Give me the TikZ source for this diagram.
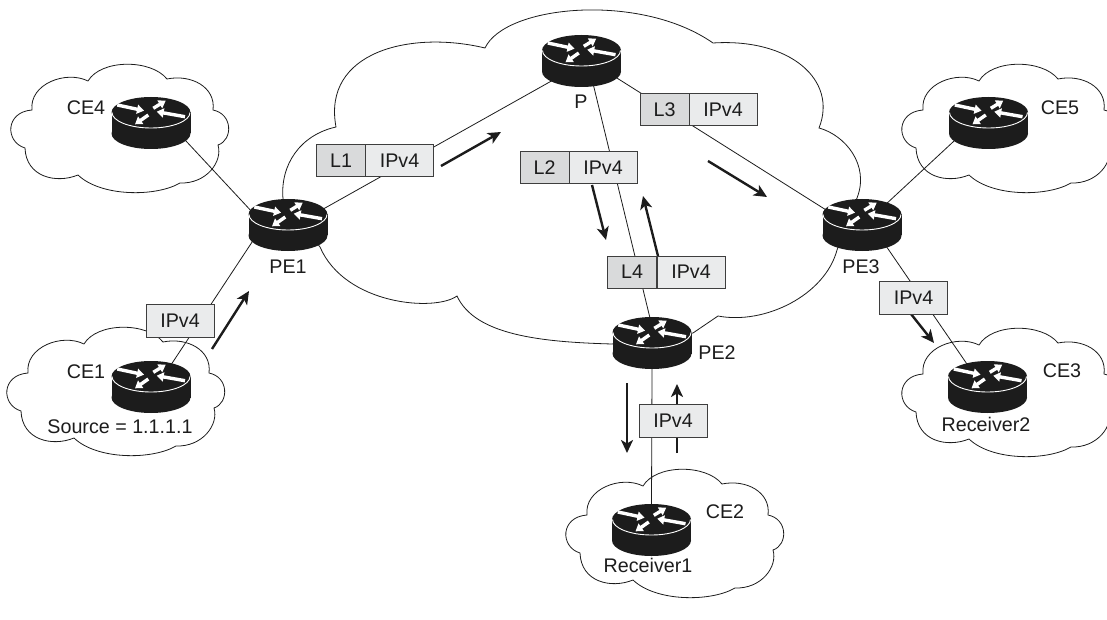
\documentclass[tikz,border=0pt]{standalone}
\usepackage{fontspec}
\setmainfont{Liberation Sans}
\usetikzlibrary{arrows.meta,shapes.geometric}

\definecolor{routerblack}{HTML}{1C1C1C}
\definecolor{labelgray}{HTML}{D9DADB}
\definecolor{ipgray}{HTML}{EAEBEC}

\tikzset{
  routernode/.style={ellipse,minimum width=79pt,minimum height=52pt,inner sep=0pt,outer sep=0pt},
  txt/.style={text=routerblack,inner sep=0pt},
  link/.style={draw=routerblack,line width=0.8pt},
  cloudline/.style={draw=routerblack,line width=0.8pt,line join=miter},
  flow/.style={draw=routerblack,line width=2.4pt,-{Stealth[length=13pt,width=12pt,inset=3.5pt]}},
  labelbox/.style={rectangle,draw=routerblack!85,line width=1pt,fill=labelgray,text=routerblack,minimum width=49pt,minimum height=32pt,inner sep=0pt},
  ipbox/.style={rectangle,draw=routerblack!85,line width=1pt,fill=ipgray,text=routerblack,minimum width=68pt,minimum height=32pt,inner sep=0pt},
  whitearrow/.style={draw=white,line width=3.4pt,-{Triangle[length=7pt,width=9pt]}},
  router/.pic={
    \fill[routerblack] (0,-10.5) ellipse [x radius=39.5,y radius=15.5];
    \fill[routerblack] (0,10.5) ellipse [x radius=39.5,y radius=15.5];
    \fill[routerblack] (-39.5,-10.5) rectangle (39.5,10.5);
    \draw[white,line width=0.9pt] (-39,-10.5) .. controls (-39,-2) and (-21.5,5) .. (0,5) .. controls (21.5,5) and (39,-2) .. (39,-10.5);
    \draw[whitearrow] (-33.7,-18) -- (-7,-12.3);
    \draw[whitearrow] (2.3,-14.7) -- (14.7,-22.3);
    \draw[whitearrow] (34,-6.3) -- (5.7,-11.3);
    \draw[whitearrow] (-2.7,-8) -- (-16,1.3);
  },
  smallcloud/.pic={
    \draw[cloudline] (-119,-2) .. controls (-122,-28) and (-85,-42) .. (-63,-31)
      .. controls (-50,-53) and (0,-53) .. (16,-33)
      .. controls (40,-38) and (65,-25) .. (62,-2)
      .. controls (82,2) and (82,28) .. (67,33)
      .. controls (72,50) and (55,72) .. (29,71)
      .. controls (5,85) and (-50,85) .. (-73,63)
      .. controls (-95,72) and (-125,65) .. (-126,36)
      .. controls (-146,30) and (-146,0) .. cycle;
  }
}

\begin{document}
\begin{tikzpicture}[x=1pt,y=-1pt,font=\fontsize{19.7}{22}\selectfont]
    \useasboundingbox (0,0) rectangle (1107,620);

    % clouds
    \pic at (151,112) {smallcloud};
    \pic at (147,375) {smallcloud};
    \pic at (1042,112) {smallcloud};
    \pic at (1042,376) {smallcloud};
    \pic at (706,517) {smallcloud};
    \draw[cloudline] (283,199) .. controls (280,165) and (300,135) .. (336,127)
      .. controls (322,52) and (410,30) .. (485,48)
      .. controls (505,5) and (640,-8) .. (713,43)
      .. controls (790,38) and (838,80) .. (819,128)
      .. controls (845,135) and (870,165) .. (857,198)
      -- (837,250) .. controls (825,295) and (765,325) .. (718,316)
      -- (693,333) -- (612,344) .. controls (540,342) and (475,335) .. (457,296)
      .. controls (435,312) and (345,305) .. (320,247) -- cycle;

    % routers
    \node[routernode] (CE4) at (151,123) {};
    \node[routernode] (CE1) at (151,387) {};
    \node[routernode] (CE5) at (988.5,123) {};
    \node[routernode] (CE3) at (987.5,387) {};
    \node[routernode] (CE2) at (651.5,530) {};
    \node[routernode] (PE1) at (288,225) {};
    \node[routernode] (PE2) at (652,343) {};
    \node[routernode] (PE3) at (862,225) {};
    \node[routernode] (P) at (581.5,61) {};

    % links
    \path[link] (CE4.-25) -- (PE1.161);
    \path[link] (CE1.48) -- (PE1.202);
    \path[link] (PE1.24) -- (P.214);
    \path[link] (P.-25) -- (PE3.158);
    \path[link] (P.-64) -- (PE2.95);
    \path[link] (PE2.south) -- (CE2.north);
    \path[link] (PE3.41) -- (CE5.206);
    \path[link] (PE3.-41) -- (CE3.132);

    \pic at (CE4) {router};
    \pic at (CE1) {router};
    \pic at (CE5) {router};
    \pic at (CE3) {router};
    \pic at (CE2) {router};
    \pic at (PE1) {router};
    \pic at (PE2) {router};
    \pic at (PE3) {router};
    \pic at (P) {router};

    % traffic arrows
    \coordinate (F1a) at (212,349);
    \coordinate (F1b) at (249,291);
    \coordinate (F2a) at (441,166);
    \coordinate (F2b) at (501,132);
    \coordinate (F3a) at (708,161);
    \coordinate (F3b) at (767,197);
    \coordinate (F4a) at (592,185);
    \coordinate (F4b) at (606,240);
    \coordinate (F5a) at (658,256);
    \coordinate (F5b) at (643,196);
    \coordinate (F6a) at (911,314);
    \coordinate (F6b) at (934,343);
    \coordinate (F7a) at (627,383);
    \coordinate (F7b) at (627,453);
    \coordinate (F8a) at (677,453);
    \coordinate (F8b) at (677,384);
    \draw[flow] (F1a) -- (F1b);
    \draw[flow] (F2a) -- (F2b);
    \draw[flow] (F3a) -- (F3b);
    \draw[flow] (F4a) -- (F4b);
    \draw[flow] (F5a) -- (F5b);
    \draw[flow] (F6a) -- (F6b);
    \draw[flow] (F7a) -- (F7b);
    \draw[flow] (F8a) -- (F8b);

    % packet labels
    \node[labelbox] (L1) at (341,161) {L1};
    \node[ipbox,minimum width=67.5pt] (IP1) at (399.5,161) {IPv4};
    \node[labelbox] (L2) at (544.5,168) {L2};
    \node[ipbox] (IP2) at (603,168) {IPv4};
    \node[labelbox] (L3) at (664.5,110) {L3};
    \node[ipbox] (IP3) at (723,110) {IPv4};
    \node[labelbox] (L4) at (632,272) {L4};
    \node[ipbox] (IP4) at (691,272) {IPv4};
    \node[ipbox,minimum height=33pt] (IP5) at (180,320.5) {IPv4};
    \node[ipbox,minimum height=33pt] (IP6) at (913.5,297.5) {IPv4};
    \node[ipbox,minimum height=33pt] (IP7) at (673,421) {IPv4};

    % router names
    \node[txt] (tCE4) at (86,108) {CE4};
    \node[txt] (tCE1) at (86,372) {CE1};
    \node[txt] (tCE5) at (1060,108) {CE5};
    \node[txt] (tCE3) at (1062,371) {CE3};
    \node[txt] (tCE2) at (725,512) {CE2};
    \node[txt] (tP) at (581,102) {P};
    \node[txt] (tPE1) at (288,267) {PE1};
    \node[txt] (tPE2) at (717,353) {PE2};
    \node[txt] (tPE3) at (861,267) {PE3};
    \node[txt] (tSource) at (120,427) {Source = 1.1.1.1};
    \node[txt] (tReceiver2) at (986,424) {Receiver2};
    \node[txt] (tReceiver1) at (648,565) {Receiver1};
\end{tikzpicture}
\end{document}
